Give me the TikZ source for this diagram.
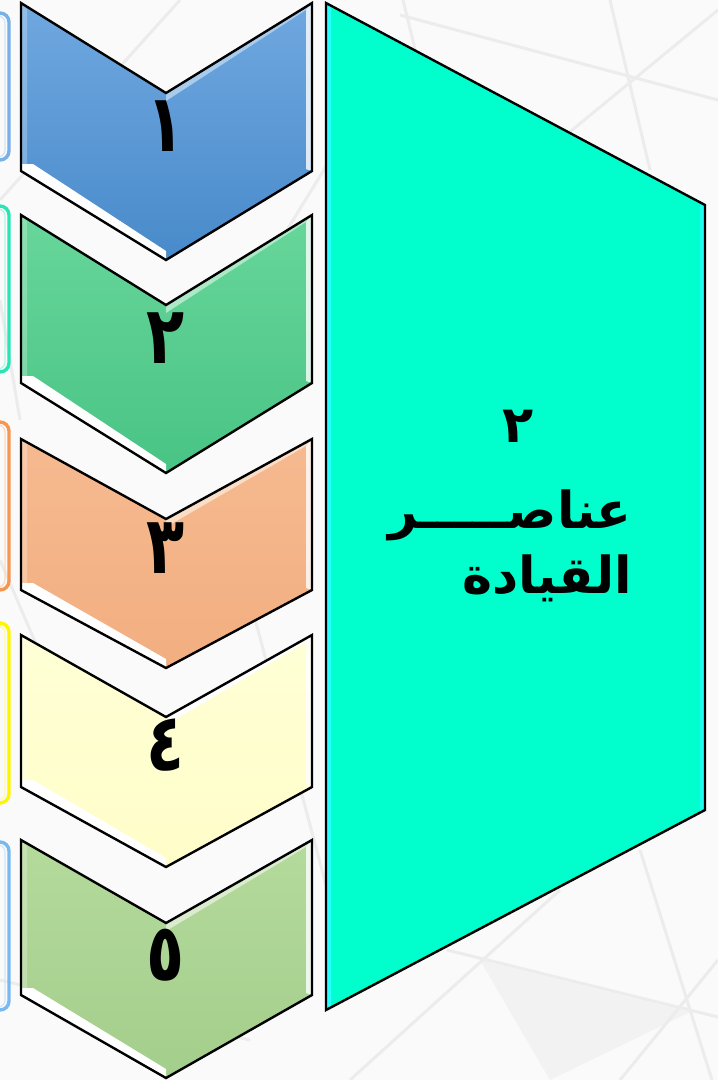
\documentclass[tikz,border=0pt]{standalone}
\usepackage{fontspec}
\newfontfamily\arabicfont[Script=Arabic]{DejaVu Sans}
\TeXXeTstate=1
\definecolor{bgc}{RGB}{250,250,250}
\definecolor{bgline}{RGB}{236,236,236}
\definecolor{teal1}{RGB}{0,255,204}
\definecolor{cyan1}{RGB}{40,255,255}
\definecolor{blueT}{RGB}{112,168,224}
\definecolor{blueB}{RGB}{72,138,202}
\definecolor{greenT}{RGB}{104,214,154}
\definecolor{greenB}{RGB}{72,196,132}
\definecolor{orT}{RGB}{246,186,144}
\definecolor{orB}{RGB}{242,174,128}
\definecolor{yeT}{RGB}{255,255,214}
\definecolor{yeB}{RGB}{255,253,200}
\definecolor{grT}{RGB}{180,218,156}
\definecolor{grB}{RGB}{164,206,140}
\definecolor{boxA}{RGB}{120,176,232}
\definecolor{boxB}{RGB}{40,230,180}
\definecolor{boxC}{RGB}{246,150,80}
\definecolor{boxD}{RGB}{255,245,0}
\definecolor{boxE}{RGB}{120,185,240}
\newcommand\digit[1]{\scalebox{0.78}[1]{#1}}
\tikzset{
  outline/.style={draw=black,line width=2.4pt,line join=miter},
  numtxt/.style={font=\arabicfont\bfseries\fontsize{80}{84}\selectfont,text=black,inner sep=0pt},
  bigtxt/.style={font=\arabicfont\bfseries\fontsize{51}{55}\selectfont,text=black,inner sep=0pt},
  bgl/.style={draw=bgline,line width=3pt},
  sidebox/.style={line width=3.4pt,rounded corners=9pt},
  sideinner/.style={line width=1.2pt,rounded corners=7pt},
}
% #1 top, #2 notch, #3 side bottom, #4 tip, #5 top colour, #6 bottom colour, #7 highlight
\newcommand\chevshape[7]{%
  \path[top color=#5,bottom color=#6] (21,#1) -- (166,#2) -- (312,#1) -- (312,#3) -- (166,#4) -- (21,#3) -- cycle;
  \fill[#7] (166,#2) -- (312,#1) -- (306,#1+7) -- (166,#2+8) -- cycle;
  \fill[white,opacity=0.8] (306,#1+7) -- (312,#1) -- (312,#3) -- (306,#3-2) -- cycle;
  \fill[white,opacity=0.25] (21,#1) -- (27,#1+6) -- (27,#3-6) -- (21,#3) -- cycle;
  \fill[white] (21,#3) -- (166,#4) -- (166,#4-9) -- (33,#3-7) -- (21,#3-7) -- cycle;
  \path[outline] (21,#1) -- (166,#2) -- (312,#1) -- (312,#3) -- (166,#4) -- (21,#3) -- cycle;
}
\begin{document}
\begin{tikzpicture}[x=1pt,y=-1pt]
\useasboundingbox (0,0) rectangle (718,1080);
\fill[bgc] (0,0) rectangle (718,1080);
% background pattern
\begin{scope}
\clip (0,0) rectangle (718,1080);
\fill[bgline!70] (480,960) -- (690,1012) -- (550,1080) -- cycle;
\draw[bgl] (403,0) -- (430,110);
\draw[bgl] (400,15) -- (718,100);
\draw[bgl] (610,0) -- (650,170);
\draw[bgl] (718,10) -- (560,140);
\draw[bgl] (640,850) -- (712,1080);
\draw[bgl] (447,950) -- (718,1017);
\draw[bgl] (560,890) -- (350,1080);
\draw[bgl] (718,960) -- (620,1080);
\draw[bgl] (0,300) -- (20,420);
\draw[bgl] (0,560) -- (60,700);
\draw[bgl] (180,0) -- (0,200);
\draw[bgl] (330,160) -- (170,420);
\draw[bgl] (0,980) -- (250,1040);
\draw[bgl] (250,600) -- (330,900);
\end{scope}
% side boxes (partially visible)
\draw[sidebox,boxA] (-20,13) -- (9,13) -- (9,160) -- (-20,160);
\draw[sideinner,boxA!35] (-20,16) -- (5,16) -- (5,157) -- (-20,157);
\draw[sidebox,boxB] (-20,206) -- (9,206) -- (9,372) -- (-20,372);
\draw[sideinner,boxB!35] (-20,209) -- (5,209) -- (5,369) -- (-20,369);
\draw[sidebox,boxC] (-20,422) -- (9,422) -- (9,590) -- (-20,590);
\draw[sideinner,boxC!35] (-20,425) -- (5,425) -- (5,587) -- (-20,587);
\draw[sidebox,boxD] (-20,623) -- (9,623) -- (9,803) -- (-20,803);
\draw[sideinner,boxD!35] (-20,626) -- (5,626) -- (5,800) -- (-20,800);
\draw[sidebox,boxE] (-20,842) -- (9,842) -- (9,1010) -- (-20,1010);
\draw[sideinner,boxE!35] (-20,845) -- (5,845) -- (5,1007) -- (-20,1007);
% chevrons
\chevshape{3}{93}{171}{260}{blueT}{blueB}{blueT!60!white}
\chevshape{215}{305}{383}{473}{greenT}{greenB}{greenT!55!white}
\chevshape{439}{519}{590}{668}{orT}{orB}{orT!50!white}
\chevshape{635}{717}{787}{867}{yeT}{yeB}{white}
\chevshape{840}{923}{995}{1078}{grT}{grB}{grT!50!white}
\node[numtxt] (n1) at (166,126) {\digit{١}};
\node[numtxt] (n2) at (166,338) {\digit{٢}};
\node[numtxt] (n3) at (166,548) {\digit{٣}};
\node[numtxt] (n4) at (166,745) {\digit{٤}};
\node[numtxt] (n5) at (166,955) {\digit{٥}};
% big teal panel
\fill[teal1] (326,3) -- (705,205) -- (705,810) -- (326,1010) -- cycle;
\fill[cyan1] (326,3) -- (331,6) -- (331,1007) -- (326,1010) -- cycle;
\fill[cyan1!70!teal1] (700,203) -- (705,205) -- (705,810) -- (700,812) -- cycle;
\path[outline] (326,3) -- (705,205) -- (705,810) -- (326,1010) -- cycle;
\node[bigtxt] (t0) at (518,426) {٢};
\node[bigtxt,anchor=east] (t1) at (632,515) {\beginR عناصـــــر\endR};
\node[bigtxt,anchor=east] (t2) at (632,578) {\beginR القيادة\endR};
\end{tikzpicture}
\end{document}
